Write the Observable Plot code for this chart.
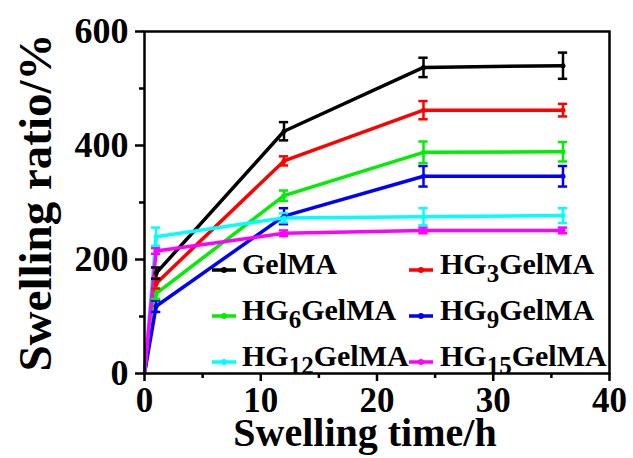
<!DOCTYPE html>
<html>
<head>
<meta charset="utf-8">
<script src="https://cdn.jsdelivr.net/npm/d3@7"></script>
<script src="https://cdn.jsdelivr.net/npm/@observablehq/plot@0.6"></script>
<style>
  html, body { margin: 0; padding: 0; background: #fff; }
  #chart { width: 633px; height: 458px; }
</style>
</head>
<body>
<div id="chart"></div>
<script>
// ---- data ----
const times = [0, 1, 12, 24, 36];
const seriesNames = ["GelMA", "HG3GelMA", "HG6GelMA", "HG9GelMA", "HG12GelMA", "HG15GelMA"];
const seriesColors = ["#000000", "#ff0000", "#00ee00", "#0000ff", "#00ffff", "#ff00ff"];

const gelmaValues = [0, 176, 425, 537, 540];
const hg3Values   = [0, 158, 373, 462, 462];
const hg6Values   = [0, 140, 312, 388, 389];
const hg9Values   = [0, 118, 276, 346, 346];
const hg12Values  = [0, 240, 273, 275, 277];
const hg15Values  = [0, 215, 246, 251, 251];

const gelmaErr = [0, 10, 16, 17, 23];
const hg3Err   = [0, 9, 8, 16, 11];
const hg6Err   = [0, 9, 9, 19, 17];
const hg9Err   = [0, 10, 14, 18, 18];
const hg12Err  = [0, 16, 8, 15, 13];
const hg15Err  = [0, 5, 5, 5, 5];

const yTicks = [0, 200, 400, 600];
const yMinorTicks = [100, 300, 500];
const xTicks = [0, 10, 20, 30, 40];
const xMinorTicks = [5, 15, 25, 35];

const allValues = [gelmaValues, hg3Values, hg6Values, hg9Values, hg12Values, hg15Values];
const allErrs = [gelmaErr, hg3Err, hg6Err, hg9Err, hg12Err, hg15Err];

const rows = [];
seriesNames.forEach((s, i) => {
  times.forEach((t, j) => {
    rows.push({series: s, t, v: allValues[i][j], e: allErrs[i][j]});
  });
});
const errRows = rows.filter(d => d.e > 0);
const capHalf = 0.4;

const font = "'Liberation Serif', 'Times New Roman', serif";

const chart = Plot.plot({
  width: 633,
  height: 458,
  marginLeft: 144,
  marginRight: 24,
  marginTop: 31,
  marginBottom: 85,
  style: {fontFamily: font, fontWeight: "bold", fontSize: "36px", color: "#000", background: "#fff"},
  x: {domain: [0, 40]},
  y: {domain: [0, 600]},
  color: {domain: seriesNames, range: seriesColors},
  marks: [
    Plot.line(rows, {x: "t", y: "v", z: "series", stroke: "series", strokeWidth: 3.5}),
    Plot.ruleX(errRows, {x: "t", y1: d => d.v - d.e, y2: d => d.v + d.e, stroke: "series", strokeWidth: 2.5}),
    Plot.ruleY(errRows, {y: d => d.v + d.e, x1: d => d.t - capHalf, x2: d => d.t + capHalf, stroke: "series", strokeWidth: 2.5}),
    Plot.ruleY(errRows, {y: d => d.v - d.e, x1: d => d.t - capHalf, x2: d => d.t + capHalf, stroke: "series", strokeWidth: 2.5}),
    Plot.dot(errRows, {x: "t", y: "v", fill: "series", r: 2.5}),
    Plot.frame({stroke: "#000", strokeWidth: 2.5}),
    Plot.axisY({ticks: yTicks, tickSize: 9, tickPadding: 7, strokeWidth: 2.5, label: null, fontSize: 36, tickFormat: d => String(d)}),
    Plot.axisY({ticks: yMinorTicks, tickSize: 5, strokeWidth: 2.5, text: null, label: null}),
    Plot.axisX({ticks: xTicks, tickSize: 8, tickPadding: 6, strokeWidth: 2.5, label: null, fontSize: 35, tickFormat: d => String(d)}),
    Plot.axisX({ticks: xMinorTicks, tickSize: 5, strokeWidth: 2.5, text: null, label: null}),
    Plot.text(["Swelling time/h"], {frameAnchor: "bottom", dx: -12, dy: 72, lineAnchor: "bottom", textAnchor: "middle", fontSize: 40, fontWeight: "bold"}),
    Plot.text(["Swelling ratio/%"], {frameAnchor: "left", dx: -94, rotate: -90, lineAnchor: "bottom", textAnchor: "middle", fontSize: 47, fontWeight: "bold"})
  ]
});

document.getElementById("chart").appendChild(chart);

// ---- legend (inside the plot area) ----
const svg = d3.select(chart);
const legendCols = [{sx: 212, tx: 242}, {sx: 409, tx: 440}];
const legendBaselines = [274, 320, 366];
const lg = svg.append("g").attr("font-family", font).attr("font-weight", "bold").attr("fill", "#000").attr("text-anchor", "start");
seriesNames.forEach((name, i) => {
  const col = legendCols[i % 2];
  const base = legendBaselines[Math.floor(i / 2)];
  const c = seriesColors[i];
  lg.append("line").attr("x1", col.sx).attr("x2", col.sx + 24).attr("y1", base - 4).attr("y2", base - 4)
    .attr("stroke", c).attr("stroke-width", 3.5);
  lg.append("circle").attr("cx", col.sx + 12).attr("cy", base - 4).attr("r", 3).attr("fill", c);
  const m = name.match(/^HG(\d+)(GelMA)$/);
  const t = lg.append("text").attr("x", col.tx).attr("y", base).attr("font-size", 30).attr("text-anchor", "start");
  if (m) {
    t.append("tspan").text("HG");
    t.append("tspan").attr("font-size", 25).attr("dy", 8).text(m[1]);
    t.append("tspan").attr("dy", -8).text(m[2]);
  } else {
    t.text(name);
  }
});
</script>
</body>
</html>
